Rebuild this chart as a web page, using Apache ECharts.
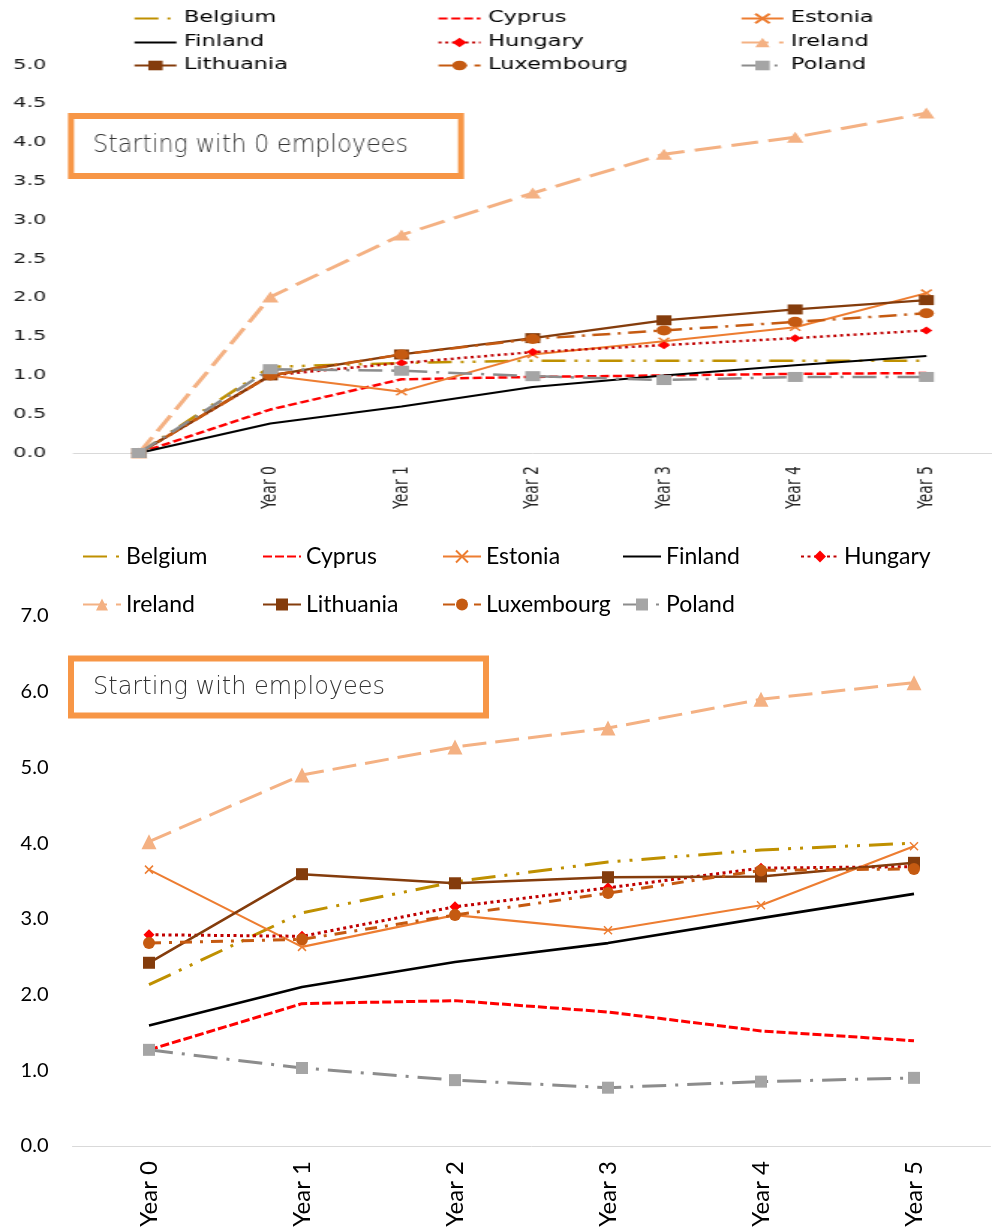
<!DOCTYPE html>
<html><head><meta charset="utf-8">
<script src="https://cdn.jsdelivr.net/npm/echarts@6/dist/echarts.min.js"></script>
<style>
html,body{margin:0;padding:0;background:#fff;width:992px;height:1232px;overflow:hidden}
#top{position:absolute;left:0;top:0;width:662px;height:530px;transform:scaleX(1.4985);transform-origin:0 0}
#bottom{position:absolute;left:0;top:530px;width:992px;height:702px}
</style></head>
<body><div id="top"></div><div id="bottom"></div>
<script>
// ---------- data ----------
const countries = ['Belgium','Cyprus','Estonia','Finland','Hungary','Ireland','Lithuania','Luxembourg','Poland'];
const topCategories = ['', 'Year 0', 'Year 1', 'Year 2', 'Year 3', 'Year 4', 'Year 5'];
const bottomCategories = ['Year 0', 'Year 1', 'Year 2', 'Year 3', 'Year 4', 'Year 5'];
const topYTicks = {min: 0, max: 5, interval: 0.5};
const bottomYTicks = {min: 0, max: 7, interval: 1};
const topTitle = 'Starting with 0 employees';
const bottomTitle = 'Starting with employees';

// Starting with 0 employees
const belgiumTop    = [0, 1.11, 1.16, 1.19, 1.19, 1.19, 1.19];
const cyprusTop     = [0, 0.56, 0.95, 0.98, 1.00, 1.02, 1.03];
const estoniaTop    = [0, 1.00, 0.79, 1.27, 1.44, 1.62, 2.06];
const finlandTop    = [0, 0.38, 0.60, 0.85, 1.00, 1.13, 1.25];
const hungaryTop    = [0, 1.00, 1.16, 1.30, 1.39, 1.48, 1.58];
const irelandTop    = [0, 2.01, 2.81, 3.35, 3.85, 4.07, 4.38];
const lithuaniaTop  = [0, 1.00, 1.27, 1.48, 1.71, 1.85, 1.97];
const luxembourgTop = [0, 1.00, 1.27, 1.47, 1.58, 1.69, 1.80];
const polandTop     = [0, 1.08, 1.06, 0.99, 0.94, 0.98, 0.98];

// Starting with employees
const belgium    = [2.13, 3.08, 3.49, 3.75, 3.91, 4.00];
const cyprus     = [1.27, 1.88, 1.92, 1.77, 1.52, 1.39];
const estonia    = [3.65, 2.63, 3.05, 2.85, 3.18, 3.96];
const finland    = [1.59, 2.10, 2.43, 2.68, 3.01, 3.33];
const hungary    = [2.79, 2.77, 3.16, 3.41, 3.67, 3.69];
const ireland    = [4.02, 4.90, 5.27, 5.52, 5.90, 6.12];
const lithuania  = [2.42, 3.59, 3.47, 3.55, 3.56, 3.74];
const luxembourg = [2.68, 2.73, 3.05, 3.34, 3.64, 3.66];
const poland     = [1.27, 1.03, 0.87, 0.77, 0.85, 0.90];

const topData = [belgiumTop, cyprusTop, estoniaTop, finlandTop, hungaryTop, irelandTop, lithuaniaTop, luxembourgTop, polandTop];
const bottomData = [belgium, cyprus, estonia, finland, hungary, ireland, lithuania, luxembourg, poland];

// ---------- styles ----------
const xPath = 'path://M0,0L10,10M10,0L0,10';
const styles = {
  Belgium:    {line:'#BF9000', dash:[24,9,3,9,3,9], w:3, sym:'none', size:0, dashT:[16,6,2,6,2,6], wT:2.5, sizeT:0},
  Cyprus:     {line:'#FF0000', dash:[9,3], w:3, sym:'none', size:0, dashT:[6,2.5], wT:2.5, sizeT:0},
  Estonia:    {line:'#ED7D31', dash:'solid', w:2.2, sym:xPath, size:8, bw:1.5, dashT:'solid', wT:2, sizeT:7},
  Finland:    {line:'#000000', dash:'solid', w:2.6, sym:'none', size:0, dashT:'solid', wT:2, sizeT:0},
  Hungary:    {line:'#C00000', mark:'#FF0000', dash:[3,3.5], w:3, sym:'diamond', size:11, dashT:[2,2.5], wT:2.5, sizeT:8},
  Ireland:    {line:'#F4B183', dash:[24,9], w:3, sym:'triangle', size:15, dashT:[18,7], wT:3, sizeT:11},
  Lithuania:  {line:'#843C0C', dash:'solid', w:2.6, sym:'rect', size:12, dashT:'solid', wT:2.3, sizeT:10},
  Luxembourg: {line:'#C55A11', dash:[12,8,3,8], w:3, sym:'circle', size:12, dashT:[12,5,2,5], wT:2.5, sizeT:10},
  Poland:     {line:'#8C8C8C', mark:'#A5A5A5', dash:[24,9,3,9], w:3, sym:'rect', size:12, dashT:[16,6,2,6], wT:2.5, sizeT:10}
};

function mkSeries(name, data, isTop) {
  const st = styles[name];
  const mc = st.mark || st.line;
  return {
    type: 'line', name: name, data: data,
    symbol: st.sym, symbolSize: isTop ? st.sizeT : st.size,
    showSymbol: st.sym !== 'none',
    lineStyle: {color: st.line, width: isTop ? st.wT : st.w, type: isTop ? st.dashT : st.dash, cap: 'butt'},
    itemStyle: {color: mc, borderColor: mc, borderWidth: st.bw || 0},
    emphasis: {disabled: true},
    animation: false
  };
}

function mkLegends(positions, textStyle, itemWidth, itemHeight) {
  return countries.map((n, i) => {
    const lg = {
      data: [n], left: positions[i][0], top: positions[i][1],
      itemWidth: itemWidth, itemHeight: itemHeight, selectedMode: false,
      textStyle: textStyle, padding: 0
    };
    if (styles[n].sym === 'none') lg.itemStyle = {opacity: 0};
    return lg;
  });
}

// ---------- top chart (horizontally stretched like the original) ----------
const S = 992 / 662;
const topCols = [133, 437, 740].map(v => v / S);
const topRows = [11, 35, 58];
const topPos = countries.map((n, i) => [topCols[i % 3], topRows[Math.floor(i / 3)]]);

const topChart = echarts.init(document.getElementById('top'), null, {renderer: 'canvas'});
topChart.setOption({
  animation: false,
  legend: mkLegends(topPos, {fontFamily: 'DejaVu Sans', fontSize: 15, color: '#000'}, 28, 12),
  grid: {left: 49, width: 622, top: 65, bottom: 77, containLabel: false},
  xAxis: {
    type: 'category', data: topCategories, boundaryGap: true,
    axisLine: {lineStyle: {color: '#D9D9D9', width: 1}},
    axisTick: {show: false},
    axisLabel: {rotate: 90, interval: 0, margin: 13, fontFamily: 'DejaVu Sans', fontSize: 14, color: '#262626'}
  },
  yAxis: {
    type: 'value', min: topYTicks.min, max: topYTicks.max, interval: topYTicks.interval,
    axisLine: {show: false}, axisTick: {show: false}, splitLine: {show: false},
    axisLabel: {formatter: v => v.toFixed(1), margin: 18, fontFamily: 'DejaVu Sans', fontSize: 14, color: '#1a1a1a'}
  },
  graphic: [{
    type: 'group', x: 0, y: 0, scaleX: 1 / S, z: 100,
    children: [
      {type: 'rect', shape: {x: 71, y: 116, width: 390, height: 60}, style: {fill: '#fff', stroke: '#F79646', lineWidth: 6}},
      {type: 'text', x: 93, y: 146, style: {text: topTitle, fontFamily: 'DejaVu Sans', fontWeight: 300, fontSize: 24, fill: '#333333', verticalAlign: 'middle'}}
    ]
  }],
  series: countries.map((n, i) => mkSeries(n, topData[i], true))
});

// ---------- bottom chart ----------
const botCols = [82, 262, 442, 622, 800];
const botRows = [15, 63];
const botPos = countries.map((n, i) => [botCols[i % 5], botRows[Math.floor(i / 5)]]);

const botChart = echarts.init(document.getElementById('bottom'), null, {renderer: 'canvas'});
botChart.setOption({
  animation: false,
  legend: mkLegends(botPos, {fontFamily: 'Lato', fontSize: 23, color: '#000'}, 38, 15),
  grid: {left: 72.5, right: 1.5, top: 86, bottom: 86, containLabel: false},
  xAxis: {
    type: 'category', data: bottomCategories, boundaryGap: true,
    axisLine: {lineStyle: {color: '#D9D9D9', width: 1}},
    axisTick: {show: false},
    axisLabel: {rotate: 90, interval: 0, margin: 15, fontFamily: 'Lato', fontSize: 24, color: '#000'}
  },
  yAxis: {
    type: 'value', min: bottomYTicks.min, max: bottomYTicks.max, interval: bottomYTicks.interval,
    axisLine: {show: false}, axisTick: {show: false}, splitLine: {show: false},
    axisLabel: {formatter: v => v.toFixed(1), margin: 24, fontFamily: 'Lato', fontSize: 20, color: '#000'}
  },
  graphic: [
    {type: 'rect', shape: {x: 71, y: 128.5, width: 415, height: 57}, style: {fill: '#fff', stroke: '#F79646', lineWidth: 6}, z: 100},
    {type: 'text', x: 93, y: 158, style: {text: bottomTitle, fontFamily: 'DejaVu Sans', fontWeight: 300, fontSize: 24, fill: '#333333', verticalAlign: 'middle'}, z: 101}
  ],
  series: countries.map((n, i) => mkSeries(n, bottomData[i], false))
});
</script></body></html>
